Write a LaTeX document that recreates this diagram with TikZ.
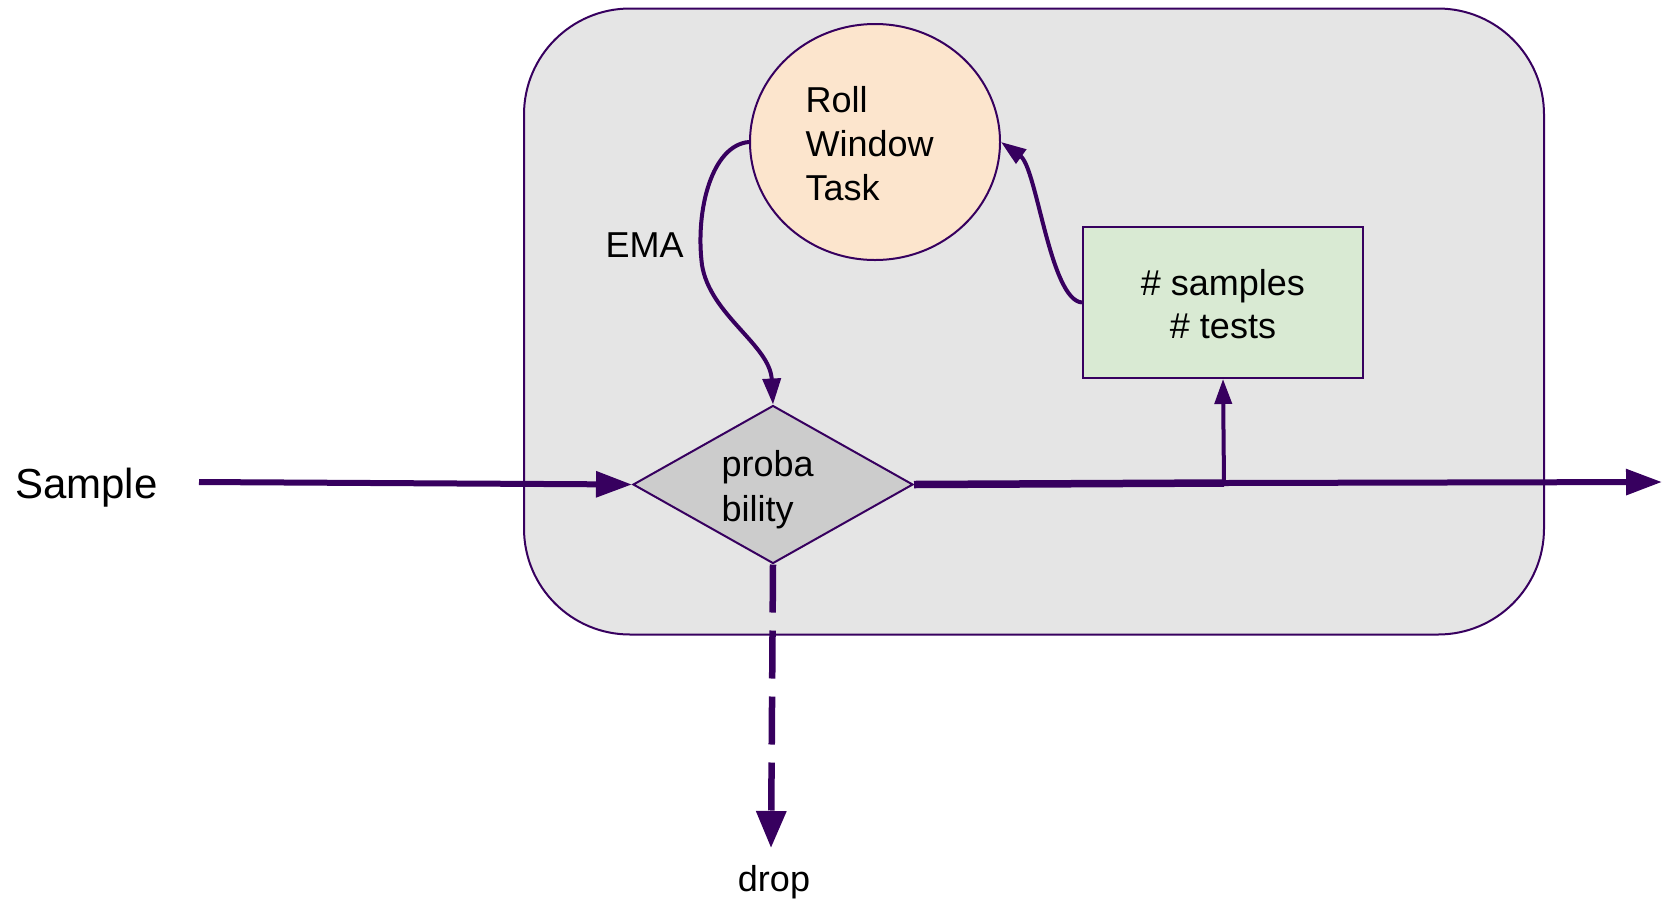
\documentclass[tikz,border=0pt]{standalone}
\usepackage{fontspec}
\setmainfont{Liberation Sans}
\usetikzlibrary{arrows.meta,shapes.geometric}
\definecolor{lc}{RGB}{55,0,95}
\definecolor{boxbg}{RGB}{229,229,229}
\definecolor{peach}{RGB}{252,229,205}
\definecolor{mint}{RGB}{217,234,211}
\definecolor{dgray}{RGB}{204,204,204}
\tikzset{
  lbl/.style={font=\fontsize{36}{44}\selectfont, text=black},
  bigtip/.style={-{Triangle[length=36pt,width=25pt]}},
  smalltip/.style={-{Triangle[length=25pt,width=17pt]}},
}
\begin{document}
\begin{tikzpicture}[x=1pt,y=-1pt]
\useasboundingbox (0,0) rectangle (1662,903);
% container
\node[draw=lc, line width=2pt, fill=boxbg, rounded corners=106pt,
      minimum width=1020pt, minimum height=626pt, inner sep=0pt] (box) at (1034,321.5) {};
% ellipse
\node[ellipse, draw=lc, line width=2pt, fill=peach, minimum width=250pt,
      minimum height=236pt, inner sep=0pt] (roll) at (875,142) {};
\node[lbl, align=left, inner sep=0pt] (rolltxt) at (869.7,143.5) {Roll\\Window\\Task};
% stats rectangle
\node[rectangle, draw=lc, line width=2pt, fill=mint, minimum width=280pt,
      minimum height=151pt, inner sep=0pt] (stats) at (1223,302.5) {};
\node[lbl, align=center, inner sep=0pt, font=\fontsize{36}{43}\selectfont]
      (statstxt) at (1223,304.5) {\# samples\\\# tests};
% diamond
\node[diamond, draw=lc, line width=2pt, fill=dgray, minimum width=280pt,
      minimum height=158pt, inner sep=0pt, aspect=1.77] (prob) at (773,484.5) {};
\node[lbl, align=left, inner sep=0pt, font=\fontsize{36}{45}\selectfont]
      (probtxt) at (767.7,489.8) {proba\\bility};
% labels
\node[lbl, font=\fontsize{42}{48}\selectfont, anchor=west, inner sep=0pt] (sample) at (15,488) {Sample};
\node[lbl, inner sep=0pt] (ema) at (644.5,245) {EMA};
\node[lbl, inner sep=0pt] (drop) at (774,882) {drop};
% coordinates
\coordinate (sstart) at (199,482);
\coordinate (branch) at (1224,483);
\coordinate (outend) at (1662,482);
\coordinate (dropend) at (771,848);
% connectors
\draw[draw=lc, line width=6pt, bigtip] (sstart) -- (prob.west);
\draw[draw=lc, line width=7.5pt] (prob.east) -- (branch);
\draw[draw=lc, line width=6pt, bigtip] (branch) -- (outend);
\draw[draw=lc, line width=4pt, smalltip] (branch) -- (stats.south);
\draw[draw=lc, line width=6.5pt, dash pattern=on 48pt off 18pt,
      -{Triangle[length=37pt,width=29pt]}] (prob.south) -- (dropend);
\draw[draw=lc, line width=4pt, -{Triangle[length=26pt,width=18pt]}]
  (roll.west) .. controls (712,145) and (695,210) .. (702,265)
  .. controls (710,315) and (770,345) .. (prob.north);
\draw[draw=lc, line width=4pt, smalltip]
  (stats.west) .. controls (1050,300) and (1037,168) .. (roll.east);
\end{tikzpicture}
\end{document}
